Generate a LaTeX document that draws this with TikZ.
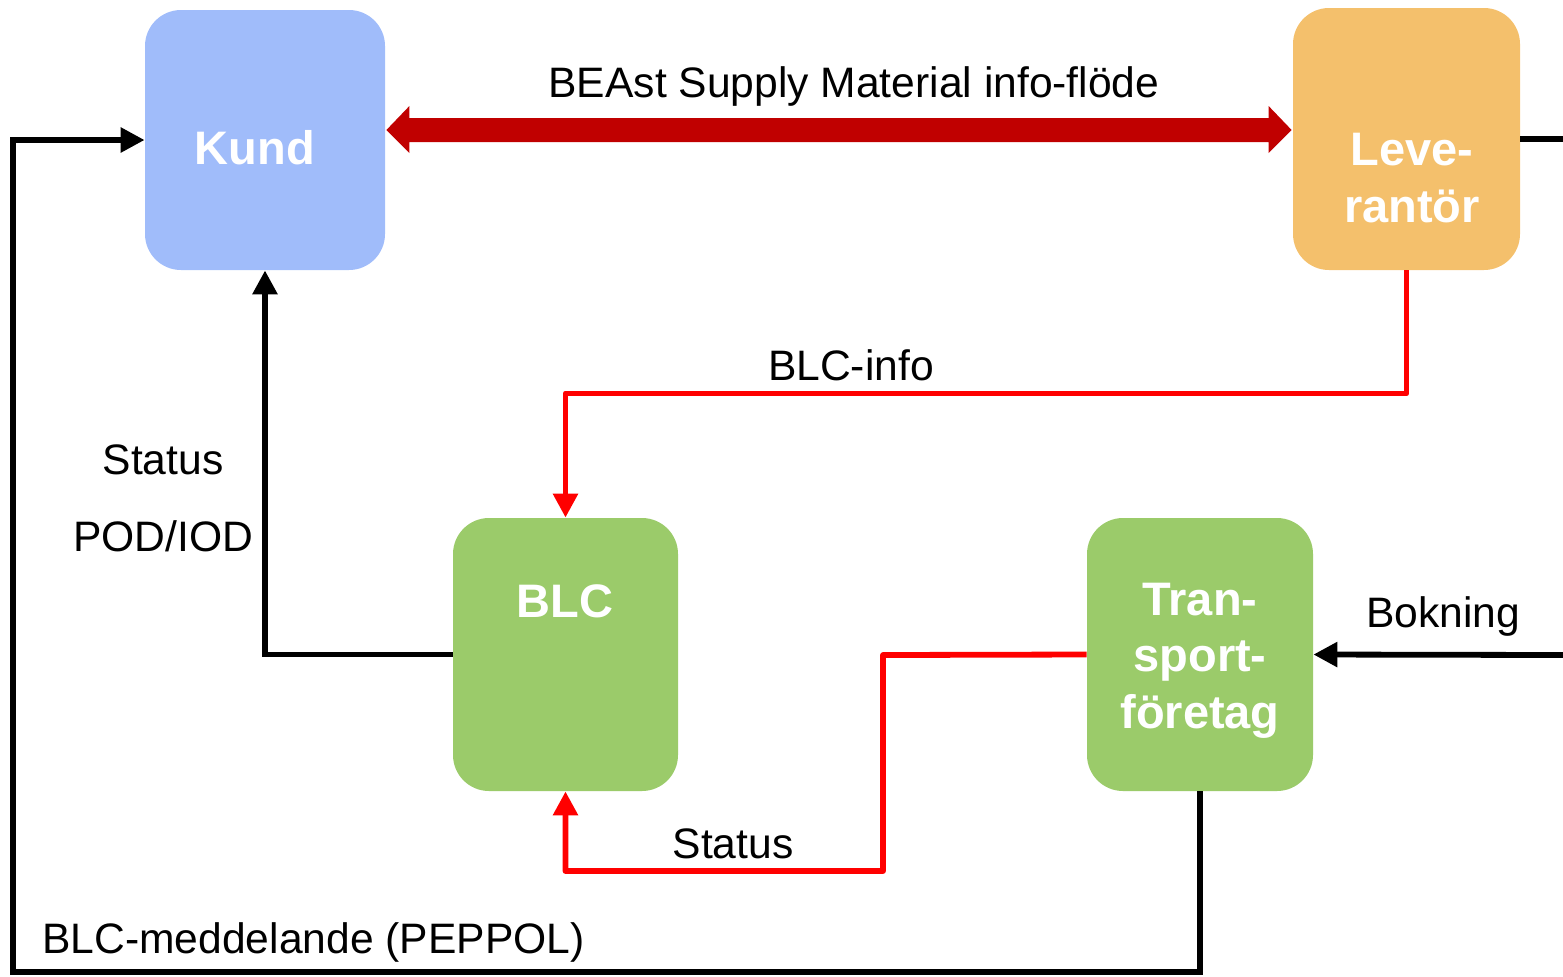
\documentclass[tikz,border=0pt]{standalone}
\usepackage{fontspec}
\setmainfont{Liberation Sans}
\usetikzlibrary{arrows.meta,calc}
\definecolor{kundblue}{RGB}{160,188,250}
\definecolor{levorange}{RGB}{244,192,108}
\definecolor{boxgreen}{RGB}{155,203,106}
\definecolor{darkred}{RGB}{192,0,0}
\definecolor{flowred}{RGB}{255,0,0}
\begin{document}
\begin{tikzpicture}[x=0.5pt,y=-0.5pt,
  box/.style={draw=none,rounded corners=18pt,inner sep=0pt},
  boxtext/.style={text=white,font=\fontsize{23.5}{28.25}\selectfont\bfseries,align=center,anchor=base,inner sep=0pt},
  lbl/.style={text=black,font=\fontsize{21.3}{25}\selectfont,anchor=base,inner sep=0pt},
  blackline/.style={draw=black,line width=2.9pt,line join=miter},
  redline/.style={draw=flowred,line width=2.9pt,line join=round},
  tip/.style={-{Triangle[length=12pt,width=12pt]}}
]
\useasboundingbox (0,0) rectangle (1563,976);
% boxes
\node[box,fill=kundblue,minimum width=120pt,minimum height=130pt] (kund) at (265,140) {};
\node[box,fill=levorange,minimum width=113.5pt,minimum height=131pt] (lev) at (1406.5,139) {};
\node[box,fill=boxgreen,minimum width=112.5pt,minimum height=136.5pt] (blc) at (565.5,654.5) {};
\node[box,fill=boxgreen,minimum width=113pt,minimum height=136.5pt] (tra) at (1200,654.5) {};
% box texts (base = last line)
\node[boxtext] (kundt) at (255,164) {Kund};
\node[boxtext] (levt) at (1412,222) {Leve-\\rantör};
\node[boxtext] (blct) at (565,617) {BLC};
\node[boxtext] (trat) at (1200,728) {Tran-\\sport-\\företag};
% double block arrow
\coordinate (ka) at ($(kund.east)+(1,-10)$);
\coordinate (la) at ($(lev.west)+(-1,-9)$);
\fill[darkred] (ka) -- ($(ka)+(23,-24)$) -- ($(ka)+(23,-12)$) -- ($(la)+(-23,-12)$) -- ($(la)+(-23,-24)$)
  -- (la) -- ($(la)+(-23,23)$) -- ($(la)+(-23,12)$) -- ($(ka)+(23,12)$) -- ($(ka)+(23,23)$) -- cycle;
\node[lbl] (beast) at (854,97) {BEAst Supply Material info-flöde};
% red Lev -> BLC
\draw[redline,tip] (lev.south) -- ($(lev.south)+(0,123)$) -| (blc.north);
\node[lbl] (blcinfo) at (851,380) {BLC-info};
% red Transport -> BLC
\coordinate (tr1) at (883,655);
\draw[redline,tip] (tra.west) -- (tr1) -- (tr1 |- 0,871) -| (blc.south);
\node[lbl] (status2) at (733,858) {Status};
% black BLC -> Kund
\draw[blackline,tip] (blc.west) -| (kund.south);
\node[lbl] (status1) at (163,474) {Status};
\node[lbl] (pod) at (163,551) {POD/IOD};
% black Transport -> Kund
\coordinate (bl) at (13,972);
\draw[blackline,tip] (tra.south) -- (tra.south |- bl) -- (bl) -- (bl |- kund.west) -- (kund.west);
\node[lbl,anchor=base west] (peppol) at (42,953) {BLC-meddelande (PEPPOL)};
% Bokning
\coordinate (bk) at (1563,655);
\draw[blackline,tip] (bk) -- (tra.east);
\node[lbl] (bokning) at (1443,627) {Bokning};
% Lev right
\coordinate (lr) at (1563,139);
\draw[blackline] (lev.east) -- (lr);
\end{tikzpicture}
\end{document}
